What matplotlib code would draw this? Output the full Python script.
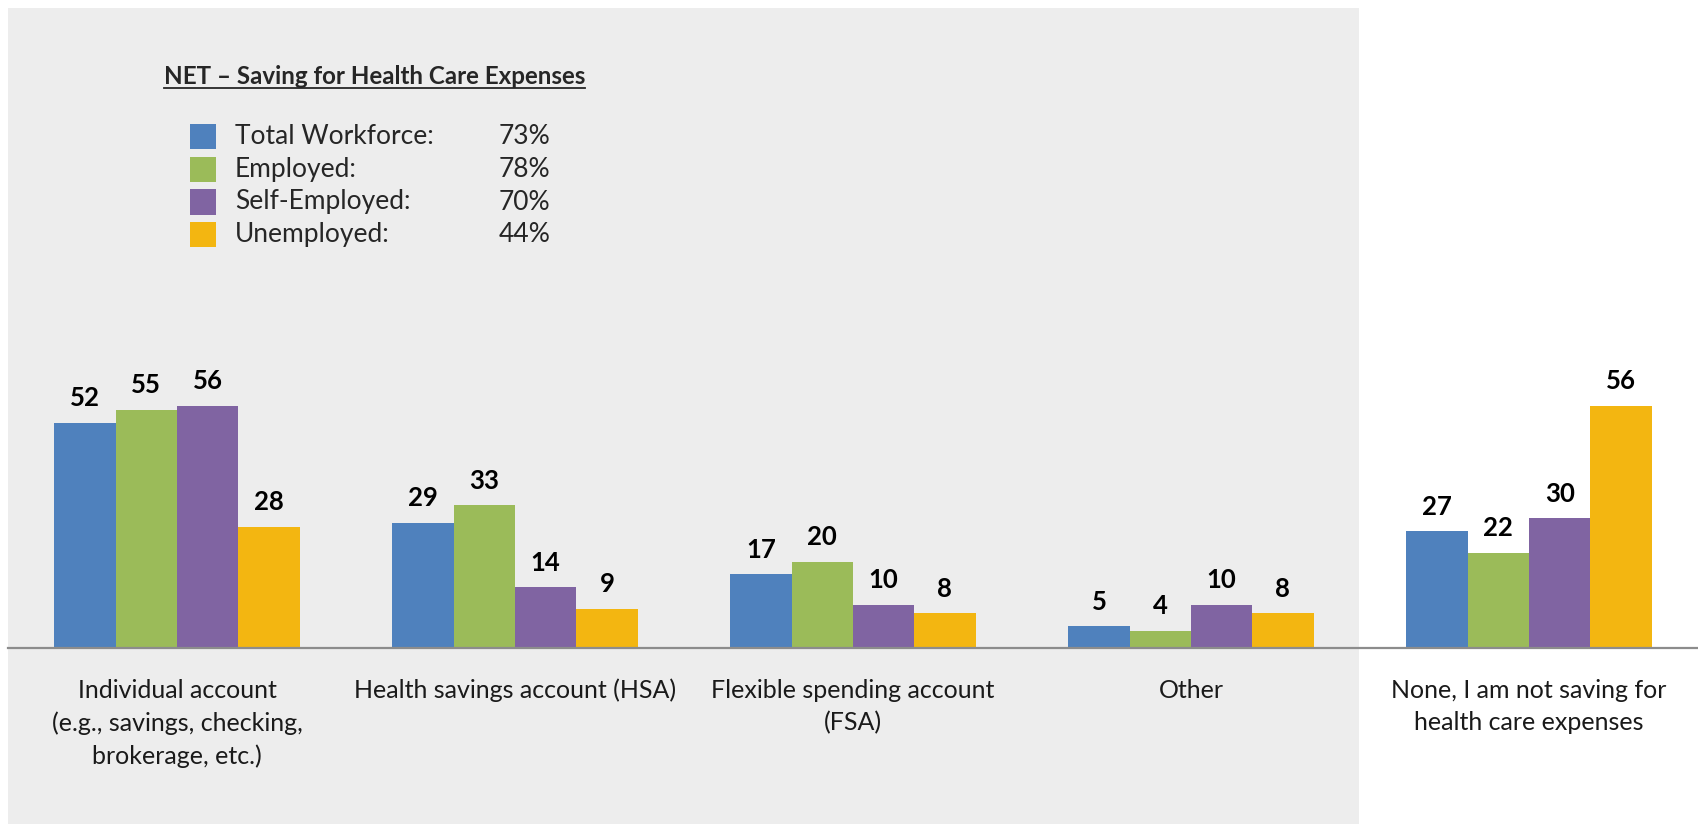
import numpy as np
import matplotlib
matplotlib.use('Agg')
import matplotlib.pyplot as plt
from matplotlib.patches import Rectangle

# data
categories = ['Individual account\n(e.g., savings, checking,\nbrokerage, etc.)',
              'Health savings account (HSA)',
              'Flexible spending account\n(FSA)',
              'Other',
              'None, I am not saving for\nhealth care expenses']
series_names = ['Total Workforce:', 'Employed:', 'Self-Employed:', 'Unemployed:']
net_values = ['73%', '78%', '70%', '44%']
total_workforce = [52, 29, 17, 5, 27]
employed = [55, 33, 20, 4, 22]
self_employed = [56, 14, 10, 10, 30]
unemployed = [28, 9, 8, 8, 56]

series = [total_workforce, employed, self_employed, unemployed]
colors = ['#4F81BD', '#9BBB59', '#8064A2', '#F3B611']

W, H = 1698, 824
plt.rcParams['font.family'] = ['Lato', 'DejaVu Sans']

fig = plt.figure(figsize=(W / 100, H / 100), dpi=100)
fig.patch.set_facecolor('white')

def fx(px):
    return px / W

def fy(py):
    return 1 - py / H

# shaded panel behind the first four groups
fig.patches.append(Rectangle((fx(8), 0), fx(1359) - fx(8), fy(8), transform=fig.transFigure,
                             facecolor='#EDEDED', edgecolor='none', zorder=-5))

ax = fig.add_axes([fx(8), fy(648), 1 - fx(8), fy(8) - fy(648)])
ax.set_facecolor('none')
ax.set_xlim(-0.5, 4.5)
ax.set_ylim(0, 148)

bar_w = 0.1813
ind = np.arange(len(categories))
for i, vals in enumerate(series):
    xs = ind + (i - 1.5) * bar_w
    ax.bar(xs, vals, bar_w, color=colors[i], edgecolor='none', zorder=2)
    for x, v in zip(xs, vals):
        ax.annotate(str(v), (x, v), xytext=(0, 12), textcoords='offset points',
                    ha='center', va='baseline', fontsize=18.5, fontweight='bold', color='black')

for s in ['top', 'left', 'right']:
    ax.spines[s].set_visible(False)
ax.spines['bottom'].set_color('#8C8C8C')
ax.spines['bottom'].set_linewidth(1.6)
ax.set_yticks([])
ax.set_xticks(ind)
ax.set_xticklabels(categories, fontsize=18, color='#1A1A1A', linespacing=1.5)
ax.tick_params(axis='x', length=0, pad=22)

# legend block
title = fig.text(fx(164), fy(77), 'NET \u2013 Saving for Health Care Expenses', ha='left', va='center',
                 fontsize=17.4, fontweight='bold', color='#262626')
fig.canvas.draw()
bb = title.get_window_extent()
fig.add_artist(plt.Line2D([bb.x0 / W, bb.x1 / W], [fy(88), fy(88)], transform=fig.transFigure,
                          color='#262626', linewidth=1.3))

row_y = [136.5, 169.5, 202, 234.5]
for i in range(len(series_names)):
    fig.patches.append(Rectangle((fx(190), fy(row_y[i] + 12.5)), fx(216) - fx(190), 25 / H,
                                 transform=fig.transFigure, facecolor=colors[i], edgecolor='none'))
    fig.text(fx(235), fy(row_y[i]), series_names[i], ha='left', va='center', fontsize=19, color='#262626')
    fig.text(fx(499), fy(row_y[i]), net_values[i], ha='left', va='center', fontsize=19, color='#262626')

fig.savefig('out.png', dpi=100)
